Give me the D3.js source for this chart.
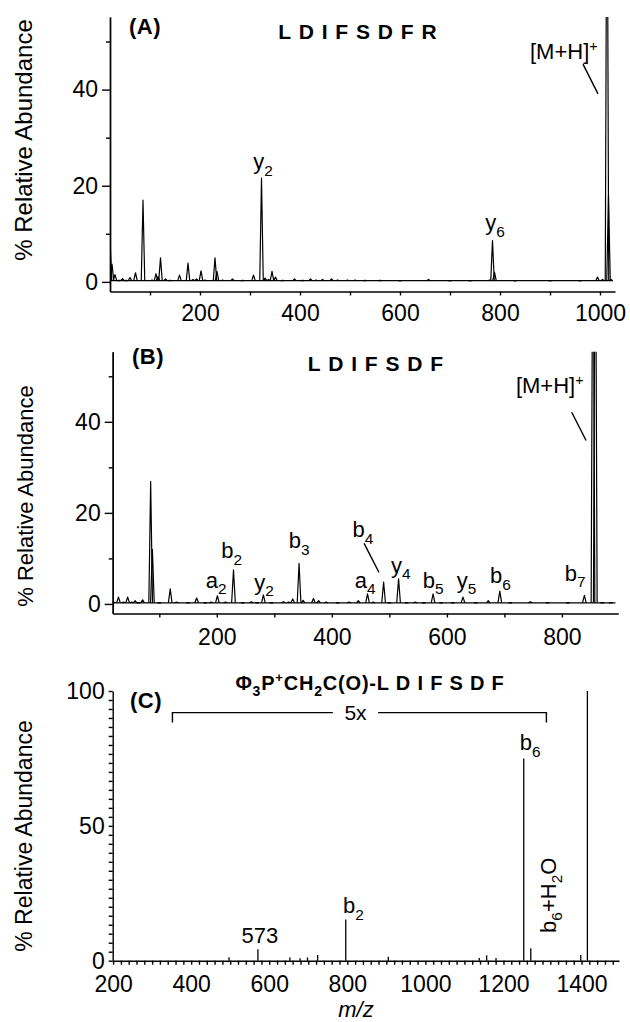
<!DOCTYPE html>
<html lang="en">
<head>
<meta charset="utf-8" />
<script src="https://cdn.jsdelivr.net/npm/d3@7"></script>
<style>
  body { margin: 0; background: #fff; }
  svg { display: block; font-family: "Liberation Sans", Arial, sans-serif; }
  text { fill: #000; }
  .axis path, .axis line { stroke: #000; stroke-width: 1.4; }
  .axis text { font-size: 23px; font-family: "Liberation Sans", Arial, sans-serif; fill: #000; }
  .spec { fill: none; stroke: #000; stroke-width: 1.2; stroke-linejoin: round; }
</style>
</head>
<body>
<script>
const w = 630, h = 1022;

// (A) L D I F S D F R : [m/z, % relative abundance]
const peaksA = [
  [20, 9.0], [24, 3.7], [30, 1.5], [38, 0.3], [45, 0.7], [52, 0.3], [60, 0.9], [71, 1.9],
  [86, 17.0], [104, 0.4], [112, 1.7], [116, 1.1], [121, 5.0], [131, 0.6], [140, 0.3],
  [159, 1.4], [176, 3.9], [186, 0.5], [193, 0.6], [202, 2.3], [210, 0.4], [230, 5.0],
  [234, 2.2], [245, 0.4], [265, 0.6], [285, 0.3], [307, 1.4], [323, 21.6], [330, 0.8],
  [337, 0.5], [344, 2.2], [351, 1.0], [365, 0.3], [389, 0.6], [405, 0.3], [421, 0.6],
  [432, 0.4], [445, 0.5], [463, 0.6], [475, 0.4], [495, 0.4], [510, 0.4], [530, 0.3],
  [560, 0.3], [600, 0.2], [657, 0.5], [700, 0.2], [740, 0.2], [779, 0.4], [785, 8.6],
  [789, 2.0], [830, 0.2], [900, 0.2], [960, 0.2], [995, 1.0], [1005, 0.5], [1014, 100],
  [1017, 18], [1022, 0.5]
];
const yTicksA = [0, 20, 40];
const yMinorA = [10, 30, 50];
const xTicksA = [100, 200, 300, 400, 500, 600, 700, 800, 900, 1000];
const xLabelsA = [200, 400, 600, 800, 1000];
// [m/z, value, text, subscript]
const labelsA = [[326, 23.5, "y", "2"], [790, 10.7, "y", "6"]];

// (B) L D I F S D F
const peaksB = [
  [20, 0.5], [29, 1.5], [38, 0.4], [45, 1.5], [52, 0.4], [58, 0.7], [64, 0.3], [71, 0.9],
  [85, 26.9], [88, 12], [100, 0.3], [119, 3.3], [130, 0.4], [150, 0.3], [165, 1.3],
  [180, 0.3], [190, 0.4], [201, 1.8], [215, 0.4], [229, 7.5], [245, 0.3], [260, 0.5],
  [270, 0.3], [281, 2.0], [295, 0.3], [316, 0.5], [325, 0.4], [332, 1.1], [343, 8.9],
  [350, 0.8], [368, 1.2], [377, 0.7], [390, 0.4], [410, 0.3], [430, 0.4], [446, 0.7],
  [462, 2.2], [472, 0.4], [490, 4.8], [500, 0.3], [516, 5.5], [530, 0.3], [545, 0.4],
  [560, 0.3], [576, 2.2], [590, 0.3], [610, 0.3], [628, 1.5], [650, 0.3], [672, 0.7],
  [692, 2.8], [710, 0.3], [745, 0.5], [775, 0.3], [810, 0.3], [839, 1.9], [854, 100],
  [858, 100], [870, 0.3], [885, 0.2]
];
const yTicksB = [0, 20, 40];
const yMinorB = [10, 30, 50];
const xTicksB = [100, 200, 300, 400, 500, 600, 700, 800];
const xLabelsB = [200, 400, 600, 800];
const labelsB = [
  [199, 3.6, "a", "2"], [226, 10, "b", "2"], [282, 3.1, "y", "2"], [343, 12.2, "b", "3"],
  [454, 14.6, "b", "4"], [458, 3.6, "a", "4"], [520, 6.9, "y", "4"], [576, 3.6, "b", "5"],
  [634, 3.6, "y", "5"], [693, 4.5, "b", "6"], [823, 5.1, "b", "7"]
];

// (C) Φ3P+CH2C(O)-L D I F S D F, stick spectrum
const peaksC = [
  [497, 1.3], [571, 4.2], [653, 1.2], [679, 0.9], [698, 1.2], [724, 2.1], [796, 15.3],
  [905, 1.5], [1138, 1.0], [1157, 2.0], [1181, 1.0], [1252, 75], [1270, 4.6],
  [1398, 2.1], [1415, 100]
];
const yLabelsC = [0, 50, 100];
const xLabelsC = [200, 400, 600, 800, 1000, 1200, 1400];

const svg = d3.select("body").append("svg")
  .attr("width", w)
  .attr("height", h);

// text with sub/superscript pieces: [str, "sub"|"sup"|undefined]
function richText(g, x, y, parts, size, anchor) {
  const t = g.append("text")
    .attr("x", x).attr("y", y)
    .attr("text-anchor", anchor || "start")
    .style("font-size", size + "px");
  let off = 0;
  parts.forEach(p => {
    let target = 0, fs = size;
    if (p[1] === "sub") { target = size * 0.3; fs = size * 0.7; }
    if (p[1] === "sup") { target = -size * 0.38; fs = size * 0.65; }
    t.append("tspan")
      .attr("dy", target - off)
      .style("font-size", fs + "px")
      .text(p[0]);
    off = target;
  });
  return t;
}

function yLabel(x, y, size) {
  svg.append("text")
    .attr("transform", `translate(${x},${y}) rotate(-90)`)
    .attr("text-anchor", "middle")
    .style("font-size", size + "px")
    .text("% Relative Abundance");
}

function boldText(x, y, str, size, spacing, anchor) {
  return svg.append("text").attr("x", x).attr("y", y)
    .attr("text-anchor", anchor || "start")
    .style("font-size", size + "px").style("font-weight", "bold")
    .style("letter-spacing", spacing + "px")
    .text(str);
}

function profilePanel(cfg) {
  const x = d3.scaleLinear().domain(cfg.xd).range(cfg.xr);
  const y = d3.scaleLinear().domain(cfg.yd).range(cfg.yr);
  const g = svg.append("g");

  g.append("clipPath").attr("id", cfg.id)
    .append("rect")
    .attr("x", cfg.xr[0]).attr("y", cfg.yr[1])
    .attr("width", cfg.xr[1] - cfg.xr[0]).attr("height", cfg.yr[0] - cfg.yr[1]);

  const line = d3.line().x(d => x(d[0])).y(d => y(d[1]));
  const base = 0.25, hw = cfg.hw;
  const spec = g.append("g").attr("clip-path", `url(#${cfg.id})`);
  spec.append("path").attr("class", "spec")
    .attr("d", line([[cfg.xd[0], base], [cfg.xd[1] - 5, base]]));
  spec.selectAll("path.pk")
    .data(cfg.peaks)
    .enter()
    .append("path")
    .attr("class", "spec pk")
    .attr("d", d => line([[d[0] - hw, base], [d[0], d[1]], [d[0] + hw, base]]));

  // axes
  g.append("g").attr("class", "axis")
    .attr("transform", `translate(${cfg.xr[0]},0)`)
    .call(d3.axisLeft(y).tickValues(cfg.yMinor).tickSize(4).tickSizeOuter(0).tickFormat(""));
  g.append("g").attr("class", "axis")
    .attr("transform", `translate(${cfg.xr[0]},0)`)
    .call(d3.axisLeft(y).tickValues(cfg.yTicks).tickSize(8).tickPadding(4).tickSizeOuter(0));
  g.append("g").attr("class", "axis")
    .attr("transform", `translate(0,${cfg.yr[0]})`)
    .call(d3.axisBottom(x).tickValues(cfg.xTicks).tickSize(4).tickPadding(cfg.xPad).tickSizeOuter(0)
      .tickFormat(d => cfg.xLabels.includes(d) ? d : ""));

  cfg.labels.forEach(l => {
    richText(g, x(l[0]), y(l[1]), [[l[2]], [l[3], "sub"]], 22, "middle");
  });
  return { g, x, y };
}

// ---------- (A)
const A = profilePanel({
  id: "clipA", peaks: peaksA, hw: 3.5,
  xd: [20, 1030], xr: [110, 615], yd: [-2.0, 55.1], yr: [291.5, 17],
  yTicks: yTicksA, yMinor: yMinorA, xTicks: xTicksA, xLabels: xLabelsA, xPad: 9,
  labels: labelsA
});
richText(A.g, A.x(860), A.y(46.3), [["[M+H]"], ["+", "sup"]], 22, "start");
A.g.append("line")
  .attr("x1", A.x(966)).attr("y1", A.y(45.3))
  .attr("x2", A.x(996)).attr("y2", A.y(39.1))
  .attr("stroke", "#000").attr("stroke-width", 1.4);
boldText(129, 34, "(A)", 22, 0.5);
boldText(358, 39, "L D I F S D F R", 21, 1, "middle");
yLabel(32, 140, 24);

// ---------- (B)
const B = profilePanel({
  id: "clipB", peaks: peaksB, hw: 3.2,
  xd: [19, 898], xr: [112.7, 618.3], yd: [-2.1, 55.4], yr: [613.5, 351.7],
  yTicks: yTicksB, yMinor: yMinorB, xTicks: xTicksB, xLabels: xLabelsB, xPad: 11,
  labels: labelsB
});
richText(B.g, B.x(720), B.y(46.3), [["[M+H]"], ["+", "sup"]], 22, "start");
B.g.append("line")
  .attr("x1", B.x(817)).attr("y1", B.y(42.1))
  .attr("x2", B.x(842)).attr("y2", B.y(35.9))
  .attr("stroke", "#000").attr("stroke-width", 1.4);
B.g.append("line")
  .attr("x1", B.x(456)).attr("y1", B.y(13.3))
  .attr("x2", B.x(482)).attr("y2", B.y(6.9))
  .attr("stroke", "#000").attr("stroke-width", 1.4);
boldText(132, 364, "(B)", 22, 0.5);
boldText(376, 371, "L D I F S D F", 21, 1, "middle");
yLabel(33, 496, 22);

// ---------- (C)
const xC = d3.scaleLinear().domain([199, 1496]).range([112.7, 619]);
const yC = d3.scaleLinear().domain([0, 100]).range([960.7, 691]);
const gC = svg.append("g");

gC.selectAll("line.stick")
  .data(peaksC)
  .enter()
  .append("line")
  .attr("class", "stick")
  .attr("x1", d => xC(d[0])).attr("x2", d => xC(d[0]))
  .attr("y1", yC(0)).attr("y2", d => yC(d[1]))
  .attr("stroke", "#000").attr("stroke-width", 1.3);

gC.append("g").attr("class", "axis")
  .attr("transform", `translate(${xC.range()[0]},0)`)
  .call(d3.axisLeft(yC).tickValues(d3.range(0, 100.01, 10 / 3)).tickSize(4).tickPadding(4)
    .tickSizeOuter(0)
    .tickFormat(d => yLabelsC.some(v => Math.abs(v - d) < 0.01) ? Math.round(d) : ""));
gC.append("g").attr("class", "axis")
  .attr("transform", `translate(0,${yC(0)})`)
  .call(d3.axisBottom(xC).tickValues(d3.range(200, 1481, 20)).tickSize(4).tickPadding(11)
    .tickSizeOuter(0)
    .tickFormat(d => xLabelsC.includes(d) ? d : ""));

// 5x bracket
const brL = 352, brR = 1310, gapL = 763, gapR = 879, brY = 92, brY0 = 88.3;
const bl = d3.line().x(d => xC(d[0])).y(d => yC(d[1]));
gC.append("path").attr("fill", "none").attr("stroke", "#000").attr("stroke-width", 1.4)
  .attr("d", bl([[brL, brY0], [brL, brY], [gapL, brY]]));
gC.append("path").attr("fill", "none").attr("stroke", "#000").attr("stroke-width", 1.4)
  .attr("d", bl([[gapR, brY], [brR, brY], [brR, brY0]]));
gC.append("text").attr("x", xC(821)).attr("y", yC(89.2)).attr("text-anchor", "middle")
  .style("font-size", "21px").text("5x");

gC.append("text").attr("x", xC(576)).attr("y", yC(6.5)).attr("text-anchor", "middle")
  .style("font-size", "22px").text("573");
richText(gC, xC(789), yC(17.7), [["b"], ["2", "sub"]], 22, "start");
richText(gC, xC(1242), yC(78), [["b"], ["6", "sub"]], 22, "start");
const rot = gC.append("g").attr("transform", `translate(${xC(1334)},${yC(10.3)}) rotate(-90)`);
richText(rot, 0, 0, [["b"], ["6", "sub"], ["+H"], ["2", "sub"], ["O"]], 22, "start");

boldText(130, 708, "(C)", 22, 0.5);
const tC = richText(svg, 370, 690,
  [["Φ"], ["3", "sub"], ["P"], ["+", "sup"], ["CH"], ["2", "sub"], ["C(O)-L D I F S D F"]], 20, "middle");
tC.style("font-weight", "bold").style("letter-spacing", "0.8px");
yLabel(32, 836, 23);

svg.append("text").attr("x", 356).attr("y", 1017).attr("text-anchor", "middle")
  .style("font-size", "22px").style("font-style", "italic")
  .text("m/z");
</script>
</body>
</html>
